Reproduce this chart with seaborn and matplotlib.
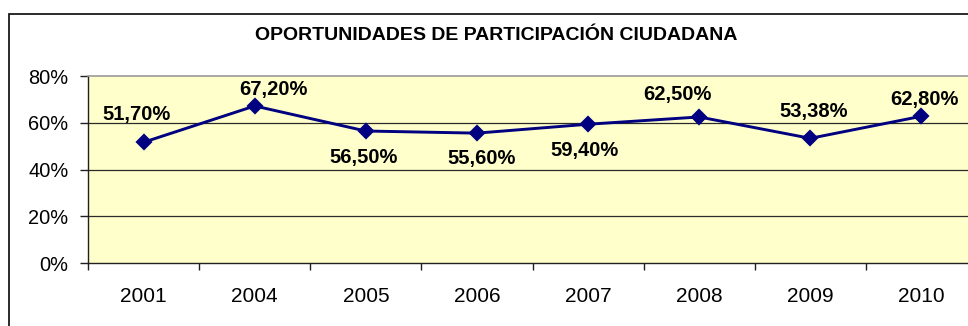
import matplotlib
matplotlib.use("Agg")
import matplotlib.pyplot as plt
from matplotlib.patches import Rectangle
import seaborn as sns
import pandas as pd

# Survey results: share of respondents who see opportunities for citizen participation
years = ["2001", "2004", "2005", "2006", "2007", "2008", "2009", "2010"]
shares = [51.70, 67.20, 56.50, 55.60, 59.40, 62.50, 53.38, 62.80]
y_ticks = [0, 20, 40, 60, 80]
title = "OPORTUNIDADES DE PARTICIPACIÓN CIUDADANA"

# label offsets from each point, in pixels (right, down)
label_offsets = [(-7, -28), (19, -16), (-2, 26), (5, 25), (-4, 26),
                 (-22, -22), (3, -27), (3, -17)]

sns.set_theme(style="white")
plt.rcParams["font.family"] = ["Liberation Sans", "DejaVu Sans"]

W, H = 968, 326
fig = plt.figure(figsize=(W / 100, H / 100), dpi=100)
fig.patch.set_facecolor("white")

# outer chart frame (runs off the right and bottom edges)
fig.add_artist(Rectangle((9 / W, -0.2), 1.2, 0.2 + 1 - 13.5 / H,
                         transform=fig.transFigure, fill=False,
                         edgecolor="#1a1a1a", linewidth=1.3, clip_on=False))

left, right = 88 / W, 977 / W
bottom, top = 1 - 263.3 / H, 1 - 76 / H
ax = fig.add_axes([left, bottom, right - left, top - bottom])
ax.set_facecolor("#FFFFCC")

df = pd.DataFrame({"year": years, "share": shares})
sns.pointplot(data=df, x="year", y="share", ax=ax, color="#000080",
              markers="D", markersize=7, linewidth=2.1, errorbar=None)

ax.set_xlim(-0.5, len(years) - 0.5)
ax.set_ylim(0, 80)
ax.set_yticks(y_ticks)
ax.set_yticklabels([f"{t}%" for t in y_ticks])
ax.set_xlabel("")
ax.set_ylabel("")

# horizontal gridlines
for t in y_ticks[1:-1]:
    ax.axhline(t, color="#2a2a2a", linewidth=0.9, zorder=0.5)

for side in ["left", "bottom"]:
    ax.spines[side].set_color("#202020")
    ax.spines[side].set_linewidth(1.0)
ax.spines["top"].set_color("#9a9a9a")
ax.spines["top"].set_linewidth(1.2)
ax.spines["right"].set_visible(False)

# category boundary ticks on the x axis
ax.set_xticks([i - 0.5 for i in range(len(years) + 1)], minor=True)
ax.tick_params(axis="x", which="minor", direction="out", length=5,
               width=1, color="#202020", bottom=True)
ax.tick_params(axis="x", which="major", length=0, pad=17, labelsize=15,
               labelcolor="black")
ax.tick_params(axis="y", direction="out", length=6, width=1,
               color="#202020", left=True, pad=8, labelsize=14.4,
               labelcolor="black")

for i, (v, (dx, dy)) in enumerate(zip(shares, label_offsets)):
    ax.annotate(f"{v:.2f}%".replace(".", ","), (i, v),
                xytext=(dx * 0.72, -dy * 0.72), textcoords="offset points",
                ha="center", va="center", fontsize=14.5, fontweight="bold",
                color="black", annotation_clip=False)

fig.text(496 / W, 1 - 35 / H, title, ha="center", va="center",
         fontsize=14, fontweight="bold", color="black")

fig.savefig("out.png", dpi=100, facecolor="white")
